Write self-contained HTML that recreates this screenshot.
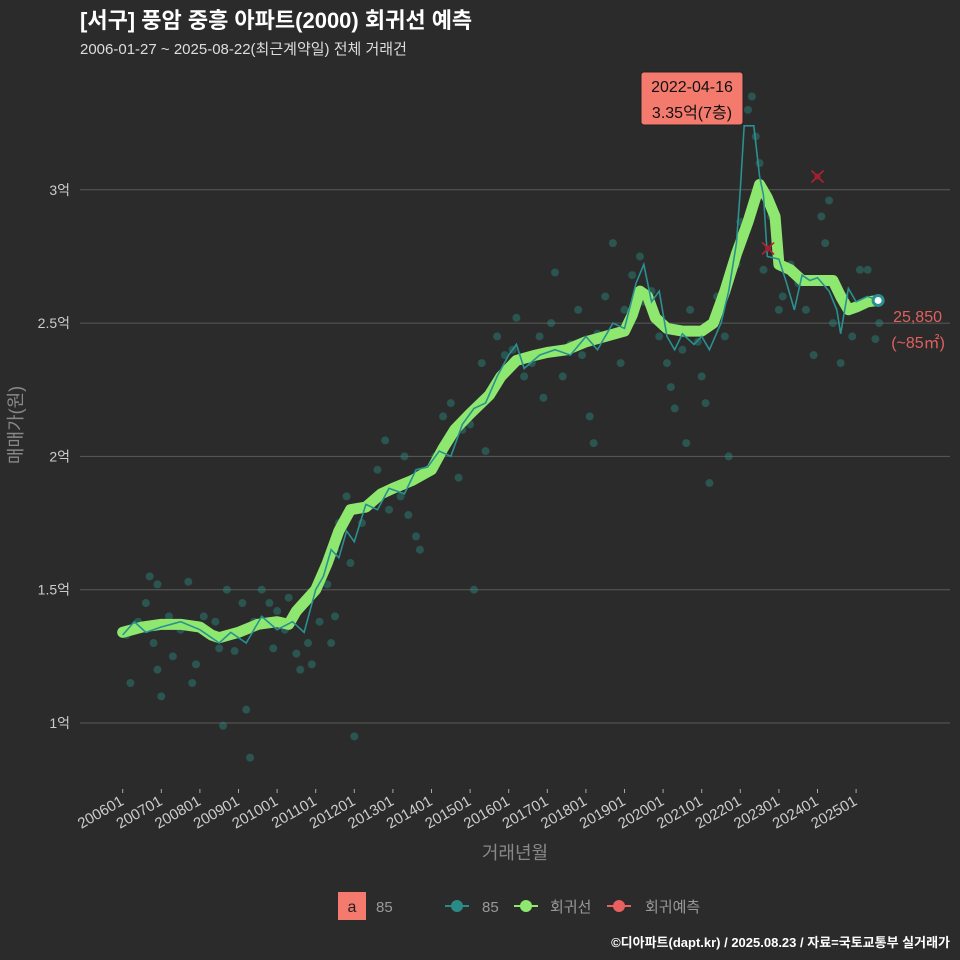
<!DOCTYPE html>
<html><head><meta charset="utf-8">
<style>
html,body{margin:0;padding:0;background:#2b2b2b;}
svg{display:block;font-family:"Liberation Sans","Noto Sans CJK KR",sans-serif;}
</style></head>
<body>
<svg id="chart" width="960" height="960" viewBox="0 0 960 960">
<rect x="0" y="0" width="960" height="960" fill="#2b2b2b"/>
<text x="80" y="28" fill="#ffffff" font-size="22" font-weight="bold">[서구] 풍암 중흥 아파트(2000) 회귀선 예측</text>
<text x="80" y="54" fill="#dddddd" font-size="15">2006-01-27 ~ 2025-08-22(최근계약일) 전체 거래건</text>
<g id="grid"></g>
<g id="yaxis"></g>
<g id="xaxis"></g>
<g id="points"></g>
<g id="lines"></g>
<text x="22" y="425" fill="#888" font-size="18" text-anchor="middle" transform="rotate(-90 22 425)">매매가(원)</text>
<text x="515" y="859" fill="#888" font-size="18" text-anchor="middle">거래년월</text>
<g>
<rect x="338" y="892" width="28" height="28" fill="#f47a6e"/>
<text x="352" y="912" fill="#222" font-size="16" text-anchor="middle">a</text>
<text x="376" y="912" fill="#999" font-size="15">85</text>
<g><line x1="445" y1="906" x2="469" y2="906" stroke="#2a8a88" stroke-width="2"/><circle cx="457" cy="906" r="6" fill="#2a8a88"/><text x="482" y="912" fill="#999" font-size="15">85</text></g>
<g><line x1="514" y1="906" x2="538" y2="906" stroke="#8ee870" stroke-width="2"/><circle cx="526" cy="906" r="6" fill="#8ee870"/><text x="550" y="912" fill="#999" font-size="15">회귀선</text></g>
<g><line x1="607" y1="906" x2="631" y2="906" stroke="#e86060" stroke-width="2"/><circle cx="619" cy="906" r="6" fill="#e86060"/><text x="645" y="912" fill="#999" font-size="15">회귀예측</text></g>
</g>
<text x="950" y="947" fill="#ffffff" font-size="13" font-weight="bold" text-anchor="end">©디아파트(dapt.kr) / 2025.08.23 / 자료=국토교통부 실거래가</text>
<g>
<rect x="641" y="72" width="102" height="53" rx="3" fill="#f47a6e" stroke="#222" stroke-width="1"/>
<text x="692" y="92" fill="#111" font-size="16" text-anchor="middle">2022-04-16</text>
<text x="692" y="118" fill="#111" font-size="16" text-anchor="middle">3.35억(7층)</text>
</g>
<text x="942" y="322" fill="#e06060" font-size="16" text-anchor="end">25,850</text>
<text x="945" y="348" fill="#e06060" font-size="16" text-anchor="end">(~85㎡)</text>
</svg>
<script>
const yTicks=[1,1.5,2,2.5,3];
const yTickLabels=["1억","1.5억","2억","2.5억","3억"];
const xTickYears=[2006,2007,2008,2009,2010,2011,2012,2013,2014,2015,2016,2017,2018,2019,2020,2021,2022,2023,2024,2025];
const xTickLabels=["200601","200701","200801","200901","201001","201101","201201","201301","201401","201501","201601","201701","201801","201901","202001","202101","202201","202301","202401","202501"];
const regT=[2006.0,2006.5,2007.0,2007.5,2008.0,2008.3,2008.5,2009.0,2009.5,2010.0,2010.3,2010.5,2011.0,2011.3,2011.6,2011.9,2012.3,2012.7,2013.0,2013.5,2014.0,2014.3,2014.6,2015.0,2015.5,2015.8,2016.2,2016.7,2017.0,2017.5,2018.0,2018.5,2019.0,2019.2,2019.4,2019.6,2019.8,2020.1,2020.5,2021.0,2021.3,2021.6,2021.9,2022.2,2022.5,2022.7,2022.9,2023.0,2023.3,2023.6,2024.0,2024.4,2024.6,2024.8,2025.0,2025.3,2025.57];
const regV=[1.34,1.36,1.37,1.37,1.36,1.33,1.32,1.34,1.37,1.38,1.37,1.42,1.50,1.60,1.72,1.80,1.81,1.86,1.88,1.91,1.95,2.03,2.10,2.16,2.23,2.30,2.36,2.38,2.39,2.40,2.43,2.45,2.47,2.53,2.62,2.60,2.52,2.48,2.47,2.47,2.50,2.62,2.76,2.88,3.02,2.97,2.90,2.72,2.70,2.66,2.66,2.66,2.60,2.55,2.56,2.58,2.585];
const avgT=[2006.0,2006.3,2006.6,2007.0,2007.5,2008.0,2008.5,2008.8,2009.2,2009.6,2010.0,2010.4,2010.7,2011.0,2011.2,2011.4,2011.6,2011.8,2012.0,2012.3,2012.6,2012.9,2013.3,2013.6,2013.9,2014.2,2014.5,2014.8,2015.1,2015.4,2015.7,2016.0,2016.2,2016.4,2016.8,2017.2,2017.6,2018.0,2018.3,2018.7,2019.0,2019.3,2019.5,2019.7,2019.9,2020.1,2020.3,2020.5,2020.8,2021.0,2021.2,2021.5,2021.7,2021.9,2022.0,2022.1,2022.35,2022.5,2022.6,2022.7,2023.0,2023.2,2023.4,2023.6,2023.8,2024.0,2024.3,2024.5,2024.6,2024.8,2025.0,2025.3,2025.57];
const avgV=[1.33,1.38,1.34,1.36,1.38,1.35,1.30,1.34,1.30,1.40,1.35,1.38,1.34,1.50,1.55,1.65,1.62,1.72,1.68,1.82,1.80,1.88,1.86,1.95,1.96,2.02,2.00,2.12,2.18,2.20,2.30,2.38,2.42,2.33,2.38,2.40,2.38,2.45,2.40,2.50,2.48,2.65,2.72,2.58,2.62,2.45,2.40,2.46,2.42,2.45,2.40,2.50,2.62,2.80,3.00,3.24,3.24,3.05,2.98,2.75,2.74,2.65,2.55,2.68,2.66,2.67,2.62,2.55,2.46,2.63,2.58,2.60,2.585];
const dealT=[2006.1,2006.2,2006.4,2006.6,2006.7,2006.8,2006.9,2007.0,2006.9,2007.2,2007.3,2007.5,2007.7,2007.8,2007.9,2008.1,2008.4,2008.5,2008.6,2008.7,2008.9,2009.1,2009.2,2009.3,2009.4,2009.6,2009.8,2009.9,2010.0,2010.2,2010.3,2010.5,2010.6,2010.8,2010.9,2011.1,2011.3,2011.5,2011.6,2011.8,2011.5,2011.4,2012.0,2011.9,2012.2,2012.4,2012.6,2012.8,2012.9,2013.2,2013.3,2013.4,2013.6,2013.7,2013.9,2014.1,2014.3,2014.5,2014.7,2014.8,2015.0,2015.1,2015.3,2015.4,2015.6,2015.7,2015.9,2016.1,2016.2,2016.4,2016.6,2016.8,2016.9,2017.1,2017.2,2017.4,2017.6,2017.8,2017.9,2018.1,2018.2,2018.3,2018.5,2018.6,2018.7,2018.9,2019.0,2019.2,2019.4,2019.5,2019.7,2019.9,2020.1,2020.2,2020.3,2020.5,2020.6,2020.7,2020.9,2021.0,2021.1,2021.2,2021.4,2021.6,2021.7,2021.9,2022.0,2022.2,2022.3,2022.4,2022.5,2022.6,2022.8,2023.0,2023.1,2023.3,2023.5,2023.7,2023.9,2024.1,2024.2,2024.3,2024.4,2024.6,2024.7,2024.9,2025.1,2025.3,2025.5,2025.6];
const dealV=[1.33,1.15,1.38,1.45,1.55,1.30,1.20,1.10,1.52,1.40,1.25,1.35,1.53,1.15,1.22,1.40,1.38,1.28,0.99,1.50,1.27,1.45,1.05,0.87,1.38,1.50,1.45,1.28,1.42,1.35,1.47,1.26,1.20,1.30,1.22,1.38,1.52,1.65,1.75,1.85,1.40,1.30,0.95,1.60,1.75,1.82,1.95,2.06,1.80,1.85,2.00,1.78,1.70,1.65,1.95,2.00,2.15,2.20,1.92,2.10,2.12,1.50,2.35,2.02,2.25,2.45,2.38,2.40,2.52,2.30,2.35,2.45,2.22,2.50,2.69,2.30,2.42,2.55,2.38,2.15,2.05,2.46,2.60,2.45,2.80,2.35,2.55,2.68,2.75,2.58,2.62,2.45,2.35,2.26,2.18,2.40,2.05,2.55,2.43,2.30,2.20,1.90,2.60,2.45,2.00,2.72,2.88,3.30,3.35,3.20,3.10,2.70,2.90,2.55,2.60,2.72,2.65,2.55,2.38,2.90,2.80,2.96,2.50,2.35,2.60,2.45,2.70,2.70,2.44,2.50];
const predT=[2024.0,2022.72];
const predV=[3.05,2.78];

const NS="http://www.w3.org/2000/svg";
function xS(t){return 122.7+(t-2006)*38.6;}
function yS(v){return 723-(v-1)*266.6;}
function mk(tag,attrs,parent){const e=document.createElementNS(NS,tag);for(const k in attrs)e.setAttribute(k,attrs[k]);parent.appendChild(e);return e;}
const grid=document.getElementById('grid'),ya=document.getElementById('yaxis'),xa=document.getElementById('xaxis');
yTicks.forEach((v,i)=>{
  const l=mk('line',{x1:80,x2:950,y1:yS(v),y2:yS(v),stroke:'#5a5a5a','stroke-width':1},grid);
  
  
  const t=mk('text',{x:70,y:yS(v)+5,fill:'#cccccc','font-size':14,'text-anchor':'end'},ya);
  t.textContent=yTickLabels[i];
  
  
});
xTickYears.forEach((yr,i)=>{
  const x=xS(yr);
  const tk=mk('line',{x1:x,x2:x,y1:789,y2:793,stroke:'#aaa'},xa);
  
  
  const t=mk('text',{x:x+2,y:804,fill:'#cccccc','font-size':15,'text-anchor':'end',transform:`rotate(-30 ${x+2} 804)`},xa);
  t.textContent=xTickLabels[i];
  
  
});
const pts=document.getElementById('points');
dealT.forEach((t,i)=>{
  const c=mk('circle',{cx:xS(t),cy:yS(dealV[i]),r:4,fill:'#2a8a80','fill-opacity':0.45},pts);
  
  
});
const lines=document.getElementById('lines');
const rp=mk('polyline',{points:regT.map((t,i)=>xS(t)+','+yS(regV[i])).join(' '),fill:'none',stroke:'#8ee870','stroke-width':11,'stroke-linejoin':'round','stroke-linecap':'round'},lines);


const ap=mk('polyline',{points:avgT.map((t,i)=>xS(t)+','+yS(avgV[i])).join(' '),fill:'none',stroke:'#2a9090','stroke-width':1.6},lines);


predT.forEach((t,i)=>{
  const x=xS(t),y=yS(predV[i]);
  const g=mk('g',{},lines);
  
  
  mk('line',{x1:x-6,y1:y-6,x2:x+6,y2:y+6,stroke:'#c02030','stroke-width':1.5},g);
  mk('line',{x1:x-6,y1:y+6,x2:x+6,y2:y-6,stroke:'#c02030','stroke-width':1.5},g);
  mk('circle',{cx:x,cy:y,r:3,fill:'#a02030'},g);
});
const lt=avgT[avgT.length-1],lv=avgV[avgV.length-1];
const ep=mk('circle',{cx:xS(lt),cy:yS(lv),r:5,fill:'#ffffff',stroke:'#2a9090','stroke-width':3},lines);


</script>
</body></html>
